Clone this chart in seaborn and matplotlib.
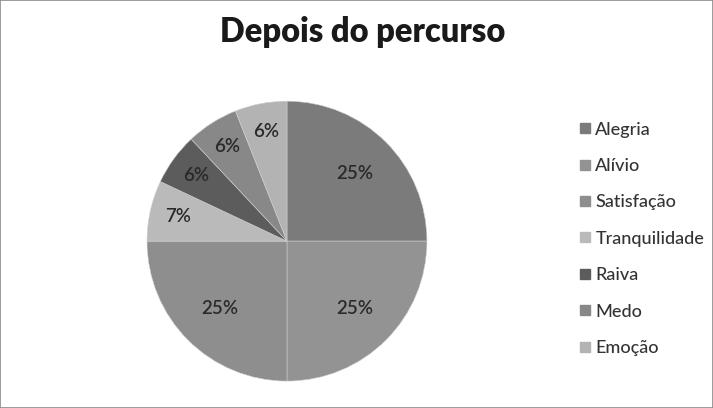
import numpy as np
import matplotlib
matplotlib.use("Agg")
import matplotlib.pyplot as plt
import seaborn as sns
from matplotlib.patches import Rectangle

categories = ["Alegria", "Alívio", "Satisfação", "Tranquilidade", "Raiva", "Medo", "Emoção"]
values = [25, 25, 25, 7, 6, 6, 6]
colors = ["#7b7b7b", "#939393", "#8e8e8e", "#bababa", "#5c5c5c", "#888888", "#b3b3b3"]
title = "Depois do percurso"

sns.set_theme(style="white")
plt.rcParams["font.family"] = ["Lato", "DejaVu Sans"]

fig = plt.figure(figsize=(7.13, 4.08), dpi=100)
fig.patches.append(Rectangle((0, 0), 1, 1, transform=fig.transFigure, fill=False,
                             edgecolor="#8a8a8a", linewidth=1.2))

ax = fig.add_axes([0.206, 0.066, 0.393, 0.686])
wedges, _ = ax.pie(values, colors=colors, startangle=90, counterclock=False,
                   wedgeprops=dict(linewidth=0.4, edgecolor="#cfcfcf"))
ax.set_xlim(-1, 1)
ax.set_ylim(-1, 1)
ax.set_aspect("equal")

# percentage labels, placed from each wedge's mid angle
for w, v in zip(wedges, values):
    mid = np.deg2rad((w.theta1 + w.theta2) / 2)
    r = 0.68 if v >= 20 else 0.80
    ax.text(r * np.cos(mid), r * np.sin(mid), f"{v}%", ha="center", va="center",
            fontsize=13.5, fontweight="semibold", color="#2a2a2a")

fig.suptitle(title, x=0.508, y=0.96, fontsize=23.5, fontweight="heavy", color="#1a1a1a")

handles = [plt.Line2D([], [], marker="s", linestyle="", markersize=7,
                      markerfacecolor=c, markeredgecolor=c) for c in colors]
fig.legend(handles, categories, loc="upper left", bbox_to_anchor=(0.811, 0.702),
           frameon=False, borderpad=0, borderaxespad=0,
           labelspacing=1.13, handletextpad=0.15, handlelength=0.8,
           labelcolor="#333333", prop=dict(size=13, weight="medium"))

fig.savefig("out.png", dpi=100)
